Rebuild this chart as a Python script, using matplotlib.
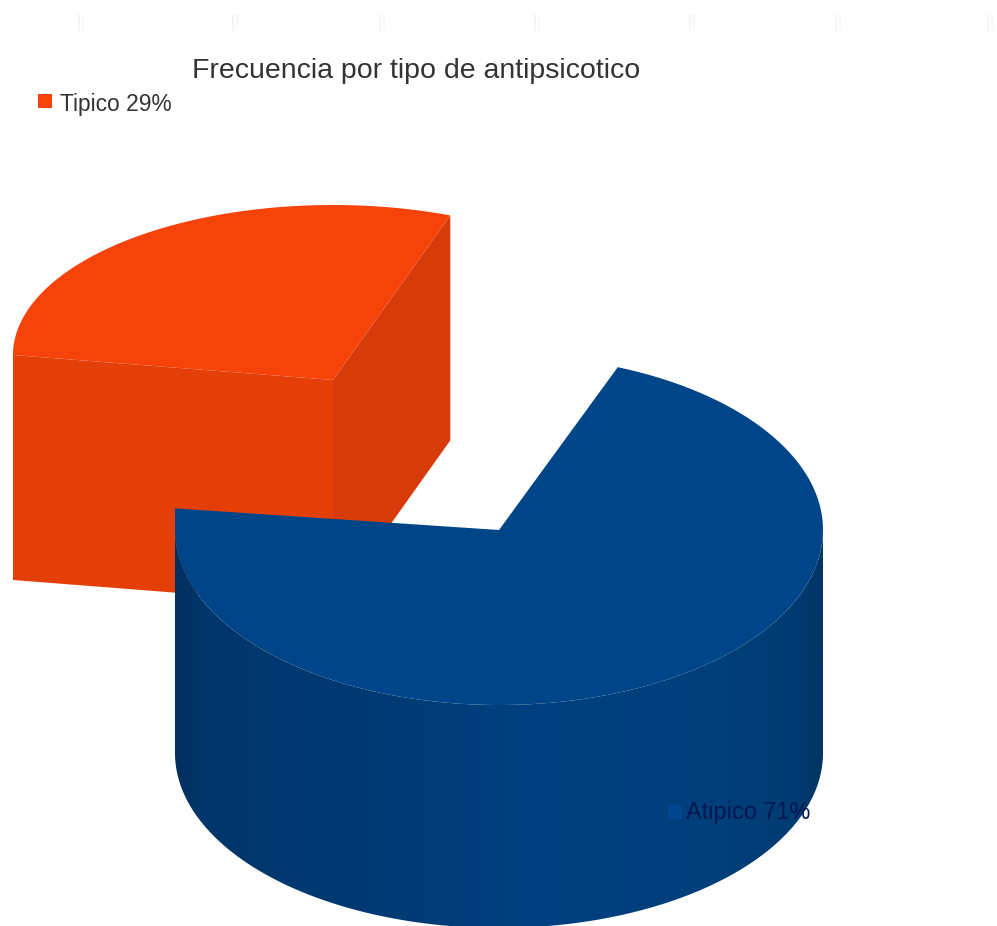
import matplotlib
matplotlib.use("Agg")
import matplotlib.pyplot as plt
import numpy as np
from matplotlib.colors import LinearSegmentedColormap
from matplotlib.patches import Polygon, Rectangle

title = "Frecuencia por tipo de antipsicotico"
labels = ["Tipico", "Atipico"]
shares = [29, 71]
grid_marks = [81, 235, 382, 537, 692, 838, 990]

# pie geometry in pixels
start_angle = 68.5
rx = 324
ry = 175
depth = 223
blue_center = (499, 530)

# the pulled out slice sits further back, so its rim is flatter than the front one
red_apex = (333, 380)
red_rim_center = (333, 355)
red_rx = 320
red_ry = 150
red_depth = 225
rim_stretch = 1.068

red_top = "#f5430a"
red_front = "#e43f08"
red_right = "#d63b09"
blue_top = "#004588"


def arc(center, a0, a1, a=rx, b=ry, drop=0):
    t = np.radians(np.linspace(a0, a1, 300))
    return np.column_stack([center[0] + a * np.cos(t), center[1] - b * np.sin(t) + drop])


sweep = 360 * shares[0] / sum(shares)
end_angle = start_angle + sweep

plt.rcParams["font.family"] = ["Liberation Sans", "DejaVu Sans"]
fig = plt.figure(figsize=(9.97, 9.26), dpi=100)
ax = fig.add_axes([0, 0, 1, 1])
ax.set_xlim(0, 997)
ax.set_ylim(926, 0)
ax.axis("off")

# faint marks along the top edge
for x in grid_marks:
    ax.plot([x - 2, x - 2], [15, 30], color="#f4f4f4", lw=1.2)
    ax.plot([x + 2, x + 2], [15, 30], color="#f7f7f7", lw=1.2)

# red slice, pulled out to the upper left
top_arc = arc(red_rim_center, start_angle, start_angle + sweep * rim_stretch, red_rx, red_ry)
p_right = top_arc[0]
p_left = top_arc[-1]
cx, cy = red_apex
ax.add_patch(Polygon([p_left, red_apex, (cx, cy + red_depth), (p_left[0], p_left[1] + red_depth)],
                     fc=red_front, ec="none", zorder=2))
ax.add_patch(Polygon([red_apex, p_right, (p_right[0], p_right[1] + red_depth), (cx, cy + red_depth)],
                     fc=red_right, ec="none", zorder=2))
ax.add_patch(Polygon(np.vstack([top_arc, [red_apex]]), fc=red_top, ec="none", zorder=3))

# blue slice, outer wall first with its shading and then the top
wall_top = arc(blue_center, 180, 360)
wall_bottom = arc(blue_center, 360, 180, drop=depth)
wall = Polygon(np.vstack([wall_top, wall_bottom]), fc="none", ec="none", zorder=4)
ax.add_patch(wall)
shade = LinearSegmentedColormap.from_list(
    "wall", [(0, "#00305f"), (0.04, "#00366b"), (0.3, "#003a73"), (0.55, "#004080"),
             (0.85, "#003f7a"), (0.96, "#003b72"), (1, "#003565")])
img = ax.imshow(np.linspace(0, 1, 400).reshape(1, -1), cmap=shade, aspect="auto",
                extent=(175, 823, 926, 500), zorder=4)
img.set_clip_path(wall)
ax.set_xlim(0, 997)
ax.set_ylim(926, 0)

# left corner of the top face stays on the vertical edge of the wall
blue_arc = arc(blue_center, 180, start_angle + 360)
corner = arc(blue_center, end_angle, end_angle + 1)[0]
corner[0] = blue_center[0] - rx
ax.add_patch(Polygon(np.vstack([[corner], blue_arc, [blue_center]]), fc=blue_top, ec="none", zorder=5))

# title, legend entry and data label
ax.text(192, 71, title, fontsize=20.5, color="#333333", ha="left", va="center", zorder=6)
ax.add_patch(Rectangle((38, 94), 14, 14, fc=red_top, ec="none", zorder=6))
ax.text(60, 104, f"{labels[0]} {shares[0]}%", fontsize=16.4, color="#333333",
        ha="left", va="center", zorder=6)
ax.add_patch(Rectangle((668, 805), 14, 14, fc="#00458e", ec="none", zorder=6))
ax.text(686, 812, f"{labels[1]} {shares[1]}%", fontsize=16.9, color="#071650",
        ha="left", va="center", zorder=6)

fig.savefig("out.png", dpi=100)
